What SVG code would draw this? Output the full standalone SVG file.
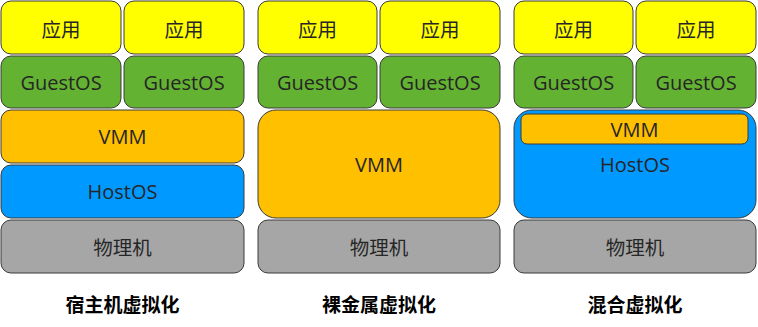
<svg xmlns="http://www.w3.org/2000/svg" width="758" height="327" viewBox="0 0 758 327">
<style>
rect{stroke:#3a3a3a;stroke-width:1}
.app{fill:#FFFF00}
.os{fill:#63B232}
.vmm{fill:#FFC000}
.host{fill:#0099FF}
.hw{fill:#A6A6A6}
text{font-family:"Open Sans","Noto Sans CJK SC",sans-serif;font-size:20px;fill:#262626;text-anchor:middle;dominant-baseline:central}
.c{font-family:"Noto Sans CJK SC",sans-serif;font-size:19.5px}
.t{font-family:"Noto Sans CJK SC",sans-serif;font-weight:bold;font-size:19px;fill:#000}
</style>
<g id="col1">
<g id="c1-app1"><rect class="app" x="1" y="1" width="120" height="53" rx="10"/><text class="c" x="61" y="28">应用</text></g>
<g id="c1-app2"><rect class="app" x="124" y="1" width="120" height="53" rx="10"/><text class="c" x="184" y="28">应用</text></g>
<g id="c1-os1"><rect class="os" x="1" y="56" width="120" height="52" rx="10"/><text x="61" y="82">GuestOS</text></g>
<g id="c1-os2"><rect class="os" x="124" y="56" width="120" height="52" rx="10"/><text x="184" y="82">GuestOS</text></g>
<g id="c1-vmm"><rect class="vmm" x="1" y="110" width="243" height="53" rx="10"/><text x="122.5" y="136">VMM</text></g>
<g id="c1-host"><rect class="host" x="1" y="165" width="243" height="53" rx="10"/><text x="122.5" y="191">HostOS</text></g>
<g id="c1-hw"><rect class="hw" x="1" y="220" width="243" height="53" rx="10"/><text class="c" x="122.5" y="246">物理机</text></g>
<g id="c1-title"><text class="t" x="122.5" y="303">宿主机虚拟化</text></g>
</g>
<g id="col2">
<g id="c2-app1"><rect class="app" x="258" y="1" width="119" height="53" rx="10"/><text class="c" x="317.5" y="28">应用</text></g>
<g id="c2-app2"><rect class="app" x="380" y="1" width="120" height="53" rx="10"/><text class="c" x="440" y="28">应用</text></g>
<g id="c2-os1"><rect class="os" x="258" y="56" width="119" height="52" rx="10"/><text x="317.5" y="82">GuestOS</text></g>
<g id="c2-os2"><rect class="os" x="380" y="56" width="120" height="52" rx="10"/><text x="440" y="82">GuestOS</text></g>
<g id="c2-vmm"><rect class="vmm" x="258" y="110" width="242" height="108" rx="18"/><text x="379" y="164">VMM</text></g>
<g id="c2-hw"><rect class="hw" x="258" y="220" width="242" height="53" rx="10"/><text class="c" x="379" y="246">物理机</text></g>
<g id="c2-title"><text class="t" x="379" y="303">裸金属虚拟化</text></g>
</g>
<g id="col3">
<g id="c3-app1"><rect class="app" x="514" y="1" width="119" height="53" rx="10"/><text class="c" x="573.5" y="28">应用</text></g>
<g id="c3-app2"><rect class="app" x="636" y="1" width="120" height="53" rx="10"/><text class="c" x="696" y="28">应用</text></g>
<g id="c3-os1"><rect class="os" x="514" y="56" width="119" height="52" rx="10"/><text x="573.5" y="82">GuestOS</text></g>
<g id="c3-os2"><rect class="os" x="636" y="56" width="120" height="52" rx="10"/><text x="696" y="82">GuestOS</text></g>
<g id="c3-host"><rect class="host" x="514" y="110" width="242" height="108" rx="18"/><text x="635" y="164">HostOS</text></g>
<g id="c3-vmm"><rect class="vmm" x="521" y="114" width="227" height="30" rx="6"/><text x="634.5" y="129">VMM</text></g>
<g id="c3-hw"><rect class="hw" x="514" y="220" width="242" height="53" rx="10"/><text class="c" x="635" y="246">物理机</text></g>
<g id="c3-title"><text class="t" x="635" y="303">混合虚拟化</text></g>
</g>
<g id="connectors"/>
</svg>
